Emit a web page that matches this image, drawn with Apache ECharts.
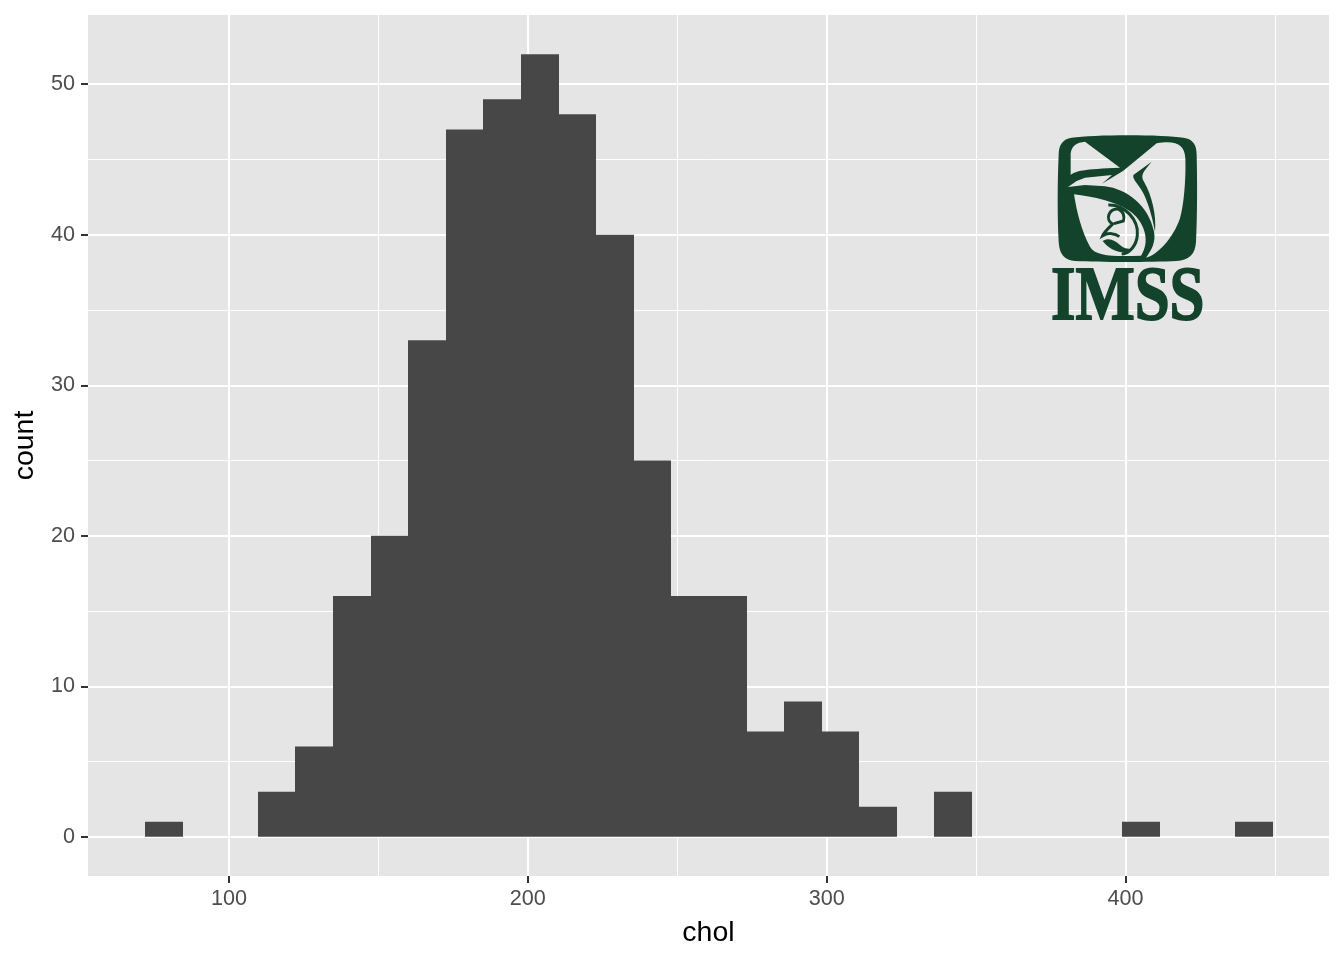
<!DOCTYPE html>
<html><head><meta charset="utf-8">
<style>html,body{margin:0;padding:0;background:#fff}#c{width:1344px;height:960px}</style>
<script src="https://cdn.jsdelivr.net/npm/echarts@6/dist/echarts.min.js"></script>
</head><body><div id="c"></div>
<script>
const binLow = [71.9,84.48,97.06,109.64,122.22,134.8,147.38,159.96,172.54,185.12,197.7,210.28,222.86,235.44,248.02,260.6,273.18,285.76,298.34,310.92,323.5,336.08,348.66,361.24,373.82,386.4,398.98,411.56,424.14,436.72];
const binHigh = [84.48,97.06,109.64,122.22,134.8,147.38,159.96,172.54,185.12,197.7,210.28,222.86,235.44,248.02,260.6,273.18,285.76,298.34,310.92,323.5,336.08,348.66,361.24,373.82,386.4,398.98,411.56,424.14,436.72,449.3];
const counts = [1,0,0,3,6,16,20,33,47,49,52,48,40,25,16,16,7,9,7,2,0,3,0,0,0,0,1,0,0,1];
const xMajor = [100,200,300,400];
const xMinor = [150,250,350,450];
const yMajor = [0,10,20,30,40,50];
const yMinor = [5,15,25,35,45];
const xRange = [52.8,468.1];
const yRange = [-2.6,54.6];

const FONT = '"Liberation Sans", Arial, sans-serif';
const LOGO = '#14432c';
const logoBase =
 'M95,38 C160,28 370,28 430,38 C460,42 470,60 470,90 C472,170 472,280 468,350 C466,390 445,405 410,408 C330,412 180,412 105,408 C75,405 58,390 56,350 C52,280 52,170 56,90 C56,60 68,42 95,38 Z ' +
 'M135,50 C110,52 95,62 92,85 L92,150 C105,138 130,132 240,128 Z ' +
 'M350,55 L250,137 L186,176 L216,150 L135,158 L110,168 L84,186 L135,180 L195,184 C260,192 325,240 342,320 C348,350 335,375 318,398 C350,392 400,340 420,280 C432,240 438,160 436,100 C434,60 410,45 350,55 Z ' +
 'M102,208 C110,260 125,320 150,365 C165,395 230,395 303,392 C318,370 322,340 310,310 C295,270 260,245 195,226 C160,216 130,212 102,208 Z';
const logoFeather = 'M335,110 L280,150 C276,165 300,180 315,215 C330,250 340,290 345,320 C350,270 335,210 312,170 C300,150 310,140 335,110 Z';
const logoBaby = 'M205,240 C255,238 296,285 292,330 C290,360 270,385 245,387 M235,252 C205,250 195,285 218,297 C205,310 192,322 188,332 C205,322 225,325 238,335 M235,252 C250,258 255,275 250,288 L222,296';
const logoArm = 'M188,348 C205,336 225,345 240,360 C250,370 262,372 275,372 C262,385 235,384 215,372 C205,366 195,358 188,348 Z';

function bars(params, api){
  const p0 = api.coord([api.value(0), api.value(2)]);
  const p1 = api.coord([api.value(1), 0]);
  const x0 = Math.round(p0[0]), x1 = Math.round(p1[0]);
  return {type:'rect', shape:{x:x0, y:p0[1], width:x1-x0, height:p1[1]-p0[1]}, style:{fill:'#474747'}};
}
function logo(){
  const xf = {x:1040, y:125, scaleX:1/3, scaleY:1/3};
  return {type:'group', children:[
    {type:'path', ...xf, shape:{pathData:logoBase}, style:{fill:LOGO}},
    {type:'path', ...xf, shape:{pathData:logoFeather}, style:{fill:LOGO}},
    {type:'path', ...xf, shape:{pathData:logoArm}, style:{fill:LOGO}},
    {type:'path', ...xf, shape:{pathData:logoBaby}, style:{fill:'none', stroke:LOGO, lineWidth:9}}
  ]};
}
const labelStyle = {color:'#4d4d4d', fontFamily:FONT, fontSize:21.6};
const nameStyle = {color:'#000', fontFamily:FONT, fontSize:28.5};

const chart = echarts.init(document.getElementById('c'), null, {renderer:'canvas'});
chart.setOption({
  animation:false,
  backgroundColor:'#fff',
  grid:{left:88, top:15, width:1241, height:861, show:true, backgroundColor:'#e5e5e5', borderWidth:0, outerBoundsMode:'none', containLabel:false},
  xAxis:[
   {type:'value', min:xRange[0], max:xRange[1], name:'chol', nameLocation:'middle', nameGap:43, nameTextStyle:nameStyle,
    axisLine:{show:false, onZero:false}, axisTick:{show:true, length:7, customValues:xMajor, lineStyle:{color:'#333', width:2}},
    axisLabel:{customValues:xMajor, margin:12, ...labelStyle},
    splitLine:{show:true, lineStyle:{color:'#fff', width:2}}},
   {type:'value', min:xRange[0], max:xRange[1], position:'bottom',
    axisLine:{show:false, onZero:false}, axisTick:{show:false, customValues:xMinor}, axisLabel:{show:false},
    splitLine:{show:true, lineStyle:{color:'#fff', width:1}}}
  ],
  yAxis:[
   {type:'value', min:yRange[0], max:yRange[1], name:'count', nameLocation:'middle', nameGap:47, nameTextStyle:nameStyle,
    axisLine:{show:false, onZero:false}, axisTick:{show:true, length:7, customValues:yMajor, lineStyle:{color:'#333', width:2}},
    axisLabel:{customValues:yMajor, margin:13, padding:[3,0,0,0], ...labelStyle},
    splitLine:{show:true, lineStyle:{color:'#fff', width:2}}},
   {type:'value', min:yRange[0], max:yRange[1], position:'left',
    axisLine:{show:false, onZero:false}, axisTick:{show:false, customValues:yMinor}, axisLabel:{show:false},
    splitLine:{show:true, lineStyle:{color:'#fff', width:1}}}
  ],
  series:[
   {type:'custom', renderItem:bars, coordinateSystem:'cartesian2d', xAxisIndex:0, yAxisIndex:0,
    encode:{x:[0,1], y:2}, data:binLow.map((v,i)=>[v, binHigh[i], counts[i]])},
   {type:'custom', renderItem:logo, coordinateSystem:'none', data:[[0]], silent:true, z:10}
  ],
  graphic:[
    {type:'text', z:10, x:1051, y:338, scaleX:0.815, style:{text:'IMSS', fill:LOGO, stroke:LOGO, lineWidth:1.8, font:'bold 77px "Liberation Serif", serif', verticalAlign:'bottom'}}
  ]
});
</script></body></html>
